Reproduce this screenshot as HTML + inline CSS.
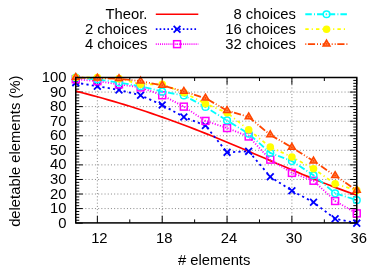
<!DOCTYPE html>
<html><head><meta charset="utf-8"><title>plot</title><style>html,body{margin:0;padding:0;background:#fff;overflow:hidden}</style></head><body>
<svg width="382" height="268" viewBox="0 0 382 268" style="display:block" font-family="'Liberation Sans', sans-serif" font-size="14.8px" fill="#000">
<rect width="382" height="268" fill="#fff"/>
<path d="M75.75 208.59H356.75M75.75 194.02H356.75M75.75 179.46H356.75M75.75 164.89H356.75M75.75 150.32H356.75M75.75 135.76H356.75M75.75 121.20H356.75M75.75 106.63H356.75M75.75 92.06H356.75M97.37 222.90V77.50M162.21 222.90V77.50M227.06 222.90V77.50M291.90 222.90V77.50" stroke="#000" stroke-width="0.6" stroke-dasharray="1 2.2" fill="none" opacity="0.8"/>
<path d="M75.75 223.15h7M356.75 223.15h-7M75.75 220.24h3.5M356.75 220.24h-3.5M75.75 217.32h3.5M356.75 217.32h-3.5M75.75 214.41h3.5M356.75 214.41h-3.5M75.75 211.50h3.5M356.75 211.50h-3.5M75.75 208.59h7M356.75 208.59h-7M75.75 205.67h3.5M356.75 205.67h-3.5M75.75 202.76h3.5M356.75 202.76h-3.5M75.75 199.85h3.5M356.75 199.85h-3.5M75.75 196.93h3.5M356.75 196.93h-3.5M75.75 194.02h7M356.75 194.02h-7M75.75 191.11h3.5M356.75 191.11h-3.5M75.75 188.19h3.5M356.75 188.19h-3.5M75.75 185.28h3.5M356.75 185.28h-3.5M75.75 182.37h3.5M356.75 182.37h-3.5M75.75 179.46h7M356.75 179.46h-7M75.75 176.54h3.5M356.75 176.54h-3.5M75.75 173.63h3.5M356.75 173.63h-3.5M75.75 170.72h3.5M356.75 170.72h-3.5M75.75 167.80h3.5M356.75 167.80h-3.5M75.75 164.89h7M356.75 164.89h-7M75.75 161.98h3.5M356.75 161.98h-3.5M75.75 159.06h3.5M356.75 159.06h-3.5M75.75 156.15h3.5M356.75 156.15h-3.5M75.75 153.24h3.5M356.75 153.24h-3.5M75.75 150.32h7M356.75 150.32h-7M75.75 147.41h3.5M356.75 147.41h-3.5M75.75 144.50h3.5M356.75 144.50h-3.5M75.75 141.59h3.5M356.75 141.59h-3.5M75.75 138.67h3.5M356.75 138.67h-3.5M75.75 135.76h7M356.75 135.76h-7M75.75 132.85h3.5M356.75 132.85h-3.5M75.75 129.93h3.5M356.75 129.93h-3.5M75.75 127.02h3.5M356.75 127.02h-3.5M75.75 124.11h3.5M356.75 124.11h-3.5M75.75 121.20h7M356.75 121.20h-7M75.75 118.28h3.5M356.75 118.28h-3.5M75.75 115.37h3.5M356.75 115.37h-3.5M75.75 112.46h3.5M356.75 112.46h-3.5M75.75 109.54h3.5M356.75 109.54h-3.5M75.75 106.63h7M356.75 106.63h-7M75.75 103.72h3.5M356.75 103.72h-3.5M75.75 100.80h3.5M356.75 100.80h-3.5M75.75 97.89h3.5M356.75 97.89h-3.5M75.75 94.98h3.5M356.75 94.98h-3.5M75.75 92.06h7M356.75 92.06h-7M75.75 89.15h3.5M356.75 89.15h-3.5M75.75 86.24h3.5M356.75 86.24h-3.5M75.75 83.33h3.5M356.75 83.33h-3.5M75.75 80.41h3.5M356.75 80.41h-3.5M75.75 77.50h7M356.75 77.50h-7M97.37 222.90v-7M97.37 77.50v7M129.79 222.90v-3.5M129.79 77.50v3.5M162.21 222.90v-7M162.21 77.50v7M194.63 222.90v-3.5M194.63 77.50v3.5M227.06 222.90v-7M227.06 77.50v7M259.48 222.90v-3.5M259.48 77.50v3.5M291.90 222.90v-7M291.90 77.50v7M324.33 222.90v-3.5M324.33 77.50v3.5M356.75 222.90v-7M356.75 77.50v7" stroke="#000" stroke-width="1" fill="none"/>
<path d="M75.75 91.15L81.15 92.51L86.56 93.91L91.96 95.34L97.37 96.80L102.77 98.30L108.17 99.83L113.58 101.39L118.98 102.99L124.38 104.63L129.79 106.30L135.19 108.01L140.60 109.76L146.00 111.54L151.40 113.36L156.81 115.21L162.21 117.10L167.62 119.03L173.02 120.99L178.42 122.98L183.83 125.01L189.23 127.06L194.63 129.15L200.04 131.27L205.44 133.41L210.85 135.58L216.25 137.78L221.65 140.00L227.06 142.24L232.46 144.49L237.87 146.77L243.27 149.06L248.67 151.36L254.08 153.67L259.48 155.98L264.88 158.30L270.29 160.63L275.69 162.95L281.10 165.26L286.50 167.57L291.90 169.87L297.31 172.15L302.71 174.41L308.12 176.65L313.52 178.86L318.92 181.05L324.33 183.20L329.73 185.31L335.13 187.38L340.54 189.40L345.94 191.37L351.35 193.28L356.75 195.14" stroke="#ff0000" stroke-width="1.7" fill="none"/>
<path d="M75.75 82.60L97.37 86.24L118.98 89.88L140.60 95.27L162.21 105.03L183.83 116.97L205.44 125.56L227.06 152.36L248.67 151.34L270.29 176.69L291.90 190.82L313.52 202.32L335.13 218.78L356.75 223.15" stroke="#0000ff" stroke-width="1.8" stroke-dasharray="2.2 3.2" fill="none"/>
<path d="M72.35 79.20L79.15 86.00M72.35 86.00L79.15 79.20" stroke="#0000ff" stroke-width="1.8" fill="none"/>
<path d="M93.97 82.84L100.77 89.64M93.97 89.64L100.77 82.84" stroke="#0000ff" stroke-width="1.8" fill="none"/>
<path d="M115.58 86.48L122.38 93.28M115.58 93.28L122.38 86.48" stroke="#0000ff" stroke-width="1.8" fill="none"/>
<path d="M137.20 91.87L144.00 98.67M137.20 98.67L144.00 91.87" stroke="#0000ff" stroke-width="1.8" fill="none"/>
<path d="M158.81 101.63L165.61 108.43M158.81 108.43L165.61 101.63" stroke="#0000ff" stroke-width="1.8" fill="none"/>
<path d="M180.43 113.57L187.23 120.37M180.43 120.37L187.23 113.57" stroke="#0000ff" stroke-width="1.8" fill="none"/>
<path d="M202.04 122.16L208.84 128.96M202.04 128.96L208.84 122.16" stroke="#0000ff" stroke-width="1.8" fill="none"/>
<path d="M223.66 148.96L230.46 155.76M223.66 155.76L230.46 148.96" stroke="#0000ff" stroke-width="1.8" fill="none"/>
<path d="M245.27 147.94L252.07 154.74M245.27 154.74L252.07 147.94" stroke="#0000ff" stroke-width="1.8" fill="none"/>
<path d="M266.89 173.29L273.69 180.09M266.89 180.09L273.69 173.29" stroke="#0000ff" stroke-width="1.8" fill="none"/>
<path d="M288.50 187.42L295.30 194.22M288.50 194.22L295.30 187.42" stroke="#0000ff" stroke-width="1.8" fill="none"/>
<path d="M310.12 198.92L316.92 205.72M310.12 205.72L316.92 198.92" stroke="#0000ff" stroke-width="1.8" fill="none"/>
<path d="M331.73 215.38L338.53 222.18M331.73 222.18L338.53 215.38" stroke="#0000ff" stroke-width="1.8" fill="none"/>
<path d="M353.35 219.75L360.15 226.55M353.35 226.55L360.15 219.75" stroke="#0000ff" stroke-width="1.8" fill="none"/>
<path d="M75.75 79.25L97.37 81.14L118.98 84.35L140.60 87.40L162.21 95.27L183.83 106.63L205.44 120.90L227.06 128.04L248.67 136.49L270.29 159.65L291.90 172.90L313.52 180.77L335.13 201.01L356.75 213.39" stroke="#ff00ff" stroke-width="1.8" stroke-dasharray="1.1 1.6" fill="none"/>
<rect x="72.30" y="75.80" width="6.9" height="6.9" stroke="#ff00ff" stroke-width="1.5" fill="none"/><circle cx="75.75" cy="79.25" r="0.7" fill="#ff00ff"/>
<rect x="93.92" y="77.69" width="6.9" height="6.9" stroke="#ff00ff" stroke-width="1.5" fill="none"/><circle cx="97.37" cy="81.14" r="0.7" fill="#ff00ff"/>
<rect x="115.53" y="80.90" width="6.9" height="6.9" stroke="#ff00ff" stroke-width="1.5" fill="none"/><circle cx="118.98" cy="84.35" r="0.7" fill="#ff00ff"/>
<rect x="137.15" y="83.95" width="6.9" height="6.9" stroke="#ff00ff" stroke-width="1.5" fill="none"/><circle cx="140.60" cy="87.40" r="0.7" fill="#ff00ff"/>
<rect x="158.76" y="91.82" width="6.9" height="6.9" stroke="#ff00ff" stroke-width="1.5" fill="none"/><circle cx="162.21" cy="95.27" r="0.7" fill="#ff00ff"/>
<rect x="180.38" y="103.18" width="6.9" height="6.9" stroke="#ff00ff" stroke-width="1.5" fill="none"/><circle cx="183.83" cy="106.63" r="0.7" fill="#ff00ff"/>
<rect x="201.99" y="117.45" width="6.9" height="6.9" stroke="#ff00ff" stroke-width="1.5" fill="none"/><circle cx="205.44" cy="120.90" r="0.7" fill="#ff00ff"/>
<rect x="223.61" y="124.59" width="6.9" height="6.9" stroke="#ff00ff" stroke-width="1.5" fill="none"/><circle cx="227.06" cy="128.04" r="0.7" fill="#ff00ff"/>
<rect x="245.22" y="133.04" width="6.9" height="6.9" stroke="#ff00ff" stroke-width="1.5" fill="none"/><circle cx="248.67" cy="136.49" r="0.7" fill="#ff00ff"/>
<rect x="266.84" y="156.20" width="6.9" height="6.9" stroke="#ff00ff" stroke-width="1.5" fill="none"/><circle cx="270.29" cy="159.65" r="0.7" fill="#ff00ff"/>
<rect x="288.45" y="169.45" width="6.9" height="6.9" stroke="#ff00ff" stroke-width="1.5" fill="none"/><circle cx="291.90" cy="172.90" r="0.7" fill="#ff00ff"/>
<rect x="310.07" y="177.32" width="6.9" height="6.9" stroke="#ff00ff" stroke-width="1.5" fill="none"/><circle cx="313.52" cy="180.77" r="0.7" fill="#ff00ff"/>
<rect x="331.68" y="197.56" width="6.9" height="6.9" stroke="#ff00ff" stroke-width="1.5" fill="none"/><circle cx="335.13" cy="201.01" r="0.7" fill="#ff00ff"/>
<rect x="353.30" y="209.94" width="6.9" height="6.9" stroke="#ff00ff" stroke-width="1.5" fill="none"/><circle cx="356.75" cy="213.39" r="0.7" fill="#ff00ff"/>
<path d="M75.75 77.50L97.37 79.39L118.98 82.60L140.60 86.24L162.21 91.63L183.83 95.41L205.44 106.92L227.06 120.47L248.67 133.72L270.29 152.95L291.90 161.10L313.52 175.23L335.13 193.29L356.75 200.14" stroke="#00ffff" stroke-width="1.8" stroke-dasharray="6.5 2.2 1 2" fill="none"/>
<circle cx="75.75" cy="77.50" r="3.35" stroke="#00ffff" stroke-width="1.5" fill="none"/><circle cx="75.75" cy="77.50" r="0.7" fill="#00ffff"/>
<circle cx="97.37" cy="79.39" r="3.35" stroke="#00ffff" stroke-width="1.5" fill="none"/><circle cx="97.37" cy="79.39" r="0.7" fill="#00ffff"/>
<circle cx="118.98" cy="82.60" r="3.35" stroke="#00ffff" stroke-width="1.5" fill="none"/><circle cx="118.98" cy="82.60" r="0.7" fill="#00ffff"/>
<circle cx="140.60" cy="86.24" r="3.35" stroke="#00ffff" stroke-width="1.5" fill="none"/><circle cx="140.60" cy="86.24" r="0.7" fill="#00ffff"/>
<circle cx="162.21" cy="91.63" r="3.35" stroke="#00ffff" stroke-width="1.5" fill="none"/><circle cx="162.21" cy="91.63" r="0.7" fill="#00ffff"/>
<circle cx="183.83" cy="95.41" r="3.35" stroke="#00ffff" stroke-width="1.5" fill="none"/><circle cx="183.83" cy="95.41" r="0.7" fill="#00ffff"/>
<circle cx="205.44" cy="106.92" r="3.35" stroke="#00ffff" stroke-width="1.5" fill="none"/><circle cx="205.44" cy="106.92" r="0.7" fill="#00ffff"/>
<circle cx="227.06" cy="120.47" r="3.35" stroke="#00ffff" stroke-width="1.5" fill="none"/><circle cx="227.06" cy="120.47" r="0.7" fill="#00ffff"/>
<circle cx="248.67" cy="133.72" r="3.35" stroke="#00ffff" stroke-width="1.5" fill="none"/><circle cx="248.67" cy="133.72" r="0.7" fill="#00ffff"/>
<circle cx="270.29" cy="152.95" r="3.35" stroke="#00ffff" stroke-width="1.5" fill="none"/><circle cx="270.29" cy="152.95" r="0.7" fill="#00ffff"/>
<circle cx="291.90" cy="161.10" r="3.35" stroke="#00ffff" stroke-width="1.5" fill="none"/><circle cx="291.90" cy="161.10" r="0.7" fill="#00ffff"/>
<circle cx="313.52" cy="175.23" r="3.35" stroke="#00ffff" stroke-width="1.5" fill="none"/><circle cx="313.52" cy="175.23" r="0.7" fill="#00ffff"/>
<circle cx="335.13" cy="193.29" r="3.35" stroke="#00ffff" stroke-width="1.5" fill="none"/><circle cx="335.13" cy="193.29" r="0.7" fill="#00ffff"/>
<circle cx="356.75" cy="200.14" r="3.35" stroke="#00ffff" stroke-width="1.5" fill="none"/><circle cx="356.75" cy="200.14" r="0.7" fill="#00ffff"/>
<path d="M75.75 77.50L97.37 77.50L118.98 78.67L140.60 84.20L162.21 84.35L183.83 92.65L205.44 103.72L227.06 112.75L248.67 129.79L270.29 147.12L291.90 157.02L313.52 168.68L335.13 183.82L356.75 190.38" stroke="#ffff00" stroke-width="1.8" stroke-dasharray="3.4 3 1.2 3.1" fill="none"/>
<circle cx="75.75" cy="77.50" r="3.8" fill="#ffff00"/>
<circle cx="97.37" cy="77.50" r="3.8" fill="#ffff00"/>
<circle cx="118.98" cy="78.67" r="3.8" fill="#ffff00"/>
<circle cx="140.60" cy="84.20" r="3.8" fill="#ffff00"/>
<circle cx="162.21" cy="84.35" r="3.8" fill="#ffff00"/>
<circle cx="183.83" cy="92.65" r="3.8" fill="#ffff00"/>
<circle cx="205.44" cy="103.72" r="3.8" fill="#ffff00"/>
<circle cx="227.06" cy="112.75" r="3.8" fill="#ffff00"/>
<circle cx="248.67" cy="129.79" r="3.8" fill="#ffff00"/>
<circle cx="270.29" cy="147.12" r="3.8" fill="#ffff00"/>
<circle cx="291.90" cy="157.02" r="3.8" fill="#ffff00"/>
<circle cx="313.52" cy="168.68" r="3.8" fill="#ffff00"/>
<circle cx="335.13" cy="183.82" r="3.8" fill="#ffff00"/>
<circle cx="356.75" cy="190.38" r="3.8" fill="#ffff00"/>
<path d="M75.75 77.50L97.37 78.23L118.98 78.67L140.60 81.14L162.21 85.37L183.83 91.48L205.44 98.18L227.06 110.56L248.67 116.97L270.29 134.89L291.90 147.41L313.52 161.10L335.13 175.67L356.75 190.38" stroke="#ff4500" stroke-width="1.8" stroke-dasharray="1 1.6 7.2 1.9 1 2" fill="none"/>
<path d="M75.75 73.45L79.20 79.35L72.30 79.35Z" fill="#ff8a50" stroke="#ff4500" stroke-width="1.5" stroke-linejoin="miter"/><circle cx="75.75" cy="77.30" r="0.9" fill="#ff4500"/>
<path d="M97.37 74.18L100.82 80.08L93.92 80.08Z" fill="#ff8a50" stroke="#ff4500" stroke-width="1.5" stroke-linejoin="miter"/><circle cx="97.37" cy="78.03" r="0.9" fill="#ff4500"/>
<path d="M118.98 74.62L122.43 80.52L115.53 80.52Z" fill="#ff8a50" stroke="#ff4500" stroke-width="1.5" stroke-linejoin="miter"/><circle cx="118.98" cy="78.47" r="0.9" fill="#ff4500"/>
<path d="M140.60 77.09L144.05 82.99L137.15 82.99Z" fill="#ff8a50" stroke="#ff4500" stroke-width="1.5" stroke-linejoin="miter"/><circle cx="140.60" cy="80.94" r="0.9" fill="#ff4500"/>
<path d="M162.21 81.32L165.66 87.22L158.76 87.22Z" fill="#ff8a50" stroke="#ff4500" stroke-width="1.5" stroke-linejoin="miter"/><circle cx="162.21" cy="85.17" r="0.9" fill="#ff4500"/>
<path d="M183.83 87.43L187.28 93.33L180.38 93.33Z" fill="#ff8a50" stroke="#ff4500" stroke-width="1.5" stroke-linejoin="miter"/><circle cx="183.83" cy="91.28" r="0.9" fill="#ff4500"/>
<path d="M205.44 94.13L208.89 100.03L201.99 100.03Z" fill="#ff8a50" stroke="#ff4500" stroke-width="1.5" stroke-linejoin="miter"/><circle cx="205.44" cy="97.98" r="0.9" fill="#ff4500"/>
<path d="M227.06 106.51L230.51 112.41L223.61 112.41Z" fill="#ff8a50" stroke="#ff4500" stroke-width="1.5" stroke-linejoin="miter"/><circle cx="227.06" cy="110.36" r="0.9" fill="#ff4500"/>
<path d="M248.67 112.92L252.12 118.82L245.22 118.82Z" fill="#ff8a50" stroke="#ff4500" stroke-width="1.5" stroke-linejoin="miter"/><circle cx="248.67" cy="116.77" r="0.9" fill="#ff4500"/>
<path d="M270.29 130.84L273.74 136.74L266.84 136.74Z" fill="#ff8a50" stroke="#ff4500" stroke-width="1.5" stroke-linejoin="miter"/><circle cx="270.29" cy="134.69" r="0.9" fill="#ff4500"/>
<path d="M291.90 143.36L295.35 149.26L288.45 149.26Z" fill="#ff8a50" stroke="#ff4500" stroke-width="1.5" stroke-linejoin="miter"/><circle cx="291.90" cy="147.21" r="0.9" fill="#ff4500"/>
<path d="M313.52 157.05L316.97 162.95L310.07 162.95Z" fill="#ff8a50" stroke="#ff4500" stroke-width="1.5" stroke-linejoin="miter"/><circle cx="313.52" cy="160.90" r="0.9" fill="#ff4500"/>
<path d="M335.13 171.62L338.58 177.52L331.68 177.52Z" fill="#ff8a50" stroke="#ff4500" stroke-width="1.5" stroke-linejoin="miter"/><circle cx="335.13" cy="175.47" r="0.9" fill="#ff4500"/>
<path d="M356.75 186.33L360.20 192.23L353.30 192.23Z" fill="#ff8a50" stroke="#ff4500" stroke-width="1.5" stroke-linejoin="miter"/><circle cx="356.75" cy="190.18" r="0.9" fill="#ff4500"/>
<rect x="75.75" y="77.50" width="281.00" height="145.40" stroke="#000" stroke-width="1.5" fill="none"/>
<text x="66.5" y="227.65" text-anchor="end">0</text>
<text x="66.5" y="213.09" text-anchor="end">10</text>
<text x="66.5" y="198.52" text-anchor="end">20</text>
<text x="66.5" y="183.96" text-anchor="end">30</text>
<text x="66.5" y="169.39" text-anchor="end">40</text>
<text x="66.5" y="154.82" text-anchor="end">50</text>
<text x="66.5" y="140.26" text-anchor="end">60</text>
<text x="66.5" y="125.70" text-anchor="end">70</text>
<text x="66.5" y="111.13" text-anchor="end">80</text>
<text x="66.5" y="96.56" text-anchor="end">90</text>
<text x="66.5" y="82.00" text-anchor="end">100</text>
<text x="99.37" y="243.3" text-anchor="middle">12</text>
<text x="164.21" y="243.3" text-anchor="middle">18</text>
<text x="229.06" y="243.3" text-anchor="middle">24</text>
<text x="293.90" y="243.3" text-anchor="middle">30</text>
<text x="358.75" y="243.3" text-anchor="middle">36</text>
<text x="214.2" y="264.6" text-anchor="middle"># elements</text>
<text transform="translate(20.3 151.2) rotate(-90)" text-anchor="middle">deletable elements (%)</text>
<text x="147.4" y="18.70" text-anchor="end">Theor.</text>
<path d="M155.8 14.25h42.5" stroke="#ff0000" stroke-width="1.7" fill="none"/>
<text x="147.4" y="33.65" text-anchor="end">2 choices</text>
<path d="M155.8 29.2h42.5" stroke="#0000ff" stroke-width="1.8" stroke-dasharray="1.65 2.21" fill="none"/>
<path d="M173.65 25.80L180.45 32.60M173.65 32.60L180.45 25.80" stroke="#0000ff" stroke-width="1.8" fill="none"/>
<text x="147.4" y="48.60" text-anchor="end">4 choices</text>
<path d="M155.8 44.15h42.5" stroke="#ff00ff" stroke-width="1.8" stroke-dasharray="0.95 1.15" fill="none"/>
<rect x="173.60" y="40.70" width="6.9" height="6.9" stroke="#ff00ff" stroke-width="1.5" fill="none"/><circle cx="177.05" cy="44.15" r="0.7" fill="#ff00ff"/>
<text x="296.0" y="18.70" text-anchor="end">8 choices</text>
<path d="M305.3 14.25h42.5" stroke="#00ffff" stroke-width="1.8" stroke-dasharray="6.5 2.2 1 2" fill="none"/>
<circle cx="326.55" cy="14.25" r="3.35" stroke="#00ffff" stroke-width="1.5" fill="none"/><circle cx="326.55" cy="14.25" r="0.7" fill="#00ffff"/>
<text x="296.0" y="33.65" text-anchor="end">16 choices</text>
<path d="M305.3 29.2h42.5" stroke="#ffff00" stroke-width="1.8" stroke-dasharray="3.4 3 1.2 3.1" fill="none"/>
<circle cx="326.55" cy="29.20" r="3.8" fill="#ffff00"/>
<text x="296.0" y="48.60" text-anchor="end">32 choices</text>
<path d="M305.3 44.15h42.5" stroke="#ff4500" stroke-width="1.8" stroke-dasharray="1 1.6 7.2 1.9 1 2" fill="none"/>
<path d="M326.55 40.10L330.00 46.00L323.10 46.00Z" fill="#ff8a50" stroke="#ff4500" stroke-width="1.5" stroke-linejoin="miter"/><circle cx="326.55" cy="43.95" r="0.9" fill="#ff4500"/>
</svg>
</body></html>
